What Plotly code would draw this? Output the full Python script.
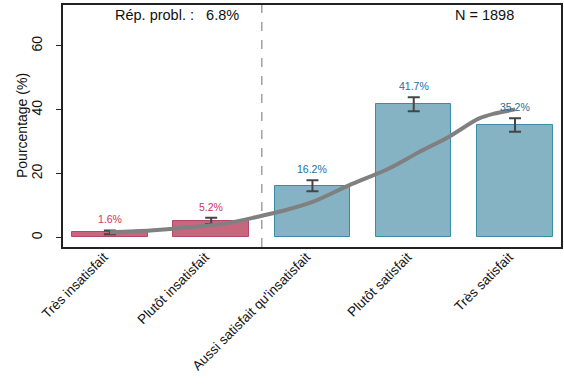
import plotly.graph_objects as go

# Satisfaction survey: share of respondents per answer (%)
categories = ["Très insatisfait", "Plutôt insatisfait", "Aussi satisfait qu'insatisfait",
              "Plutôt satisfait", "Très satisfait"]
values = [1.6, 5.2, 16.2, 41.7, 35.2]
errors = [0.6, 1.0, 1.7, 2.2, 2.1]
value_labels = ["1.6%", "5.2%", "16.2%", "41.7%", "35.2%"]

# Smoothed trend curve (category position, %)
trend_x = [0.0, 0.4, 0.8, 1.15, 1.45, 1.73, 2.0, 2.36, 2.75, 3.05, 3.34, 3.64, 3.8, 4.0]
trend_y = [1.6, 2.2, 3.2, 4.4, 6.4, 8.5, 11.1, 16.3, 21.5, 26.7, 31.4, 37.2, 38.8, 40.1]

problem_rate = "6.8%"
n_total = 1898

neg_fill, neg_line, neg_text = "#c6677e", "#b5486a", "#c8385a"
pos_fill, pos_line, pos_text = "#86b3c4", "#3b8ca6", "#236f96"

fill_colors = [neg_fill, neg_fill, pos_fill, pos_fill, pos_fill]
line_colors = [neg_line, neg_line, pos_line, pos_line, pos_line]
text_colors = [neg_text, neg_text, pos_text, pos_text, pos_text]

FONT = "Liberation Sans, Arial, sans-serif"
xpos = list(range(len(categories)))

fig = go.Figure()
fig.add_trace(go.Bar(
    x=xpos, y=values, width=0.745,
    marker=dict(color=fill_colors, line=dict(color=line_colors, width=1)),
    error_y=dict(type="data", array=errors, color="#454545", thickness=2, width=6),
    showlegend=False, hoverinfo="skip",
))
fig.add_trace(go.Scatter(
    x=trend_x, y=trend_y, mode="lines",
    line=dict(color="#808080", width=4, shape="spline", smoothing=0.8),
    showlegend=False, hoverinfo="skip",
))

for xi, v, e, lab, c in zip(xpos, values, errors, value_labels, text_colors):
    fig.add_annotation(x=xi, y=v + e, text=lab, showarrow=False, yshift=11,
                       yanchor="middle", font=dict(size=10.5, color=c, family=FONT))

# Separator between negative and neutral/positive answers
fig.add_shape(type="line", x0=1.5, x1=1.5, y0=0, y1=1, yref="paper",
              line=dict(color="#8a8a8a", width=1.2, dash="dash"))

fig.add_annotation(x=0.66, y=1, yref="paper", yshift=-10, showarrow=False,
                   text=f"Rép. probl. :   {problem_rate}", yanchor="middle",
                   font=dict(size=14.5, color="#111", family=FONT))
fig.add_annotation(x=3.7, y=1, yref="paper", yshift=-10, showarrow=False,
                   text=f"N = {n_total}", yanchor="middle",
                   font=dict(size=14.5, color="#111", family=FONT))

# Y-axis title
fig.add_annotation(x=0, xref="paper", y=0.5, yref="paper", xshift=-41, showarrow=False,
                   text="Pourcentage (%)", textangle=-90, xanchor="center", yanchor="middle",
                   font=dict(size=14, color="#111", family=FONT))

fig.update_layout(
    width=564, height=390,
    margin=dict(l=63, r=1, t=5, b=143),
    plot_bgcolor="white", paper_bgcolor="white",
    font=dict(family=FONT, color="#111"),
    bargap=0,
    xaxis=dict(
        range=[-0.463, 4.454], tickmode="array", tickvals=xpos, ticktext=categories,
        tickangle=-45, tickfont=dict(size=13.5), ticks="", showgrid=False, zeroline=False,
        ticklabelstandoff=-5, ticklabelshift=-6,
        showline=True, linecolor="#222", linewidth=1.8, mirror=True,
    ),
    yaxis=dict(
        range=[-3.0, 72.8], tickvals=[0, 20, 40, 60], tickangle=-90,
        tickfont=dict(size=14), ticks="outside", ticklen=5, tickwidth=1, tickcolor="#222",
        ticklabelstandoff=9,
        showgrid=False, zeroline=False,
        showline=True, linecolor="#222", linewidth=1.8, mirror=True,
    ),
)

fig.write_html("out.html")
